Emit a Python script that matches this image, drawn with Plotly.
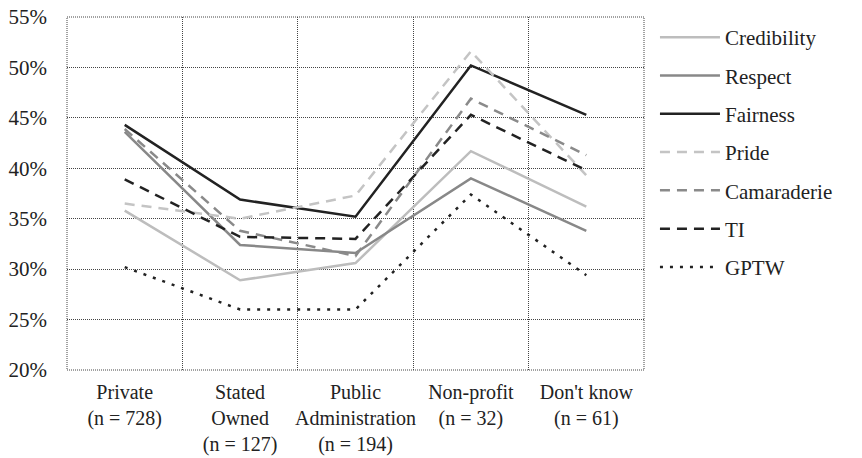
import plotly.graph_objects as go

categories = ["Private<br>(n = 728)", "Stated<br>Owned<br>(n = 127)", "Public<br>Administration<br>(n = 194)",
              "Non-profit<br>(n = 32)", "Don't know<br>(n = 61)"]
x_pos = [0, 1, 2, 3, 4]

credibility = [35.8, 28.9, 30.6, 41.7, 36.2]
respect = [43.6, 32.4, 31.6, 39.0, 33.8]
fairness = [44.3, 36.9, 35.2, 50.2, 45.3]
pride = [36.5, 35.0, 37.3, 51.6, 39.3]
camaraderie = [43.9, 33.8, 31.3, 46.9, 41.3]
ti = [38.9, 33.2, 33.0, 45.3, 39.8]
gptw = [30.2, 26.0, 26.0, 37.4, 29.4]

y_ticks = [20, 25, 30, 35, 40, 45, 50, 55]
y_tick_text = [f"{v}%" for v in y_ticks]

series = [
    ("Credibility", credibility, "#bdbdbd", "solid", 2.5),
    ("Respect", respect, "#888888", "solid", 2.5),
    ("Fairness", fairness, "#222222", "solid", 2.5),
    ("Pride", pride, "#c4c4c4", "10px,7px", 2.5),
    ("Camaraderie", camaraderie, "#8a8a8a", "10px,7px", 2.5),
    ("TI", ti, "#222222", "10px,7px", 2.5),
    ("GPTW", gptw, "#222222", "3px,7px", 2.5),
]

font_family = "Liberation Serif"
txt_font = dict(family=font_family, size=20, color="#222222")

fig = go.Figure()
for i, (name, vals, color, dash, w) in enumerate(series):
    fig.add_trace(go.Scatter(
        x=x_pos, y=vals, name=name, mode="lines",
        line=dict(color=color, dash=dash, width=w),
        legendgroup=f"g{i}",
    ))

grid_color = "#444444"
fig.update_layout(
    width=854, height=450,
    margin=dict(l=59, r=218, t=9, b=88),
    paper_bgcolor="white", plot_bgcolor="white",
    font=txt_font,
    legend=dict(
        x=1.019, y=1.0, xanchor="left", yanchor="top",
        traceorder="grouped", tracegroupgap=8, itemwidth=60,
        maxheight=420,
        font=dict(family=font_family, size=21, color="#222222"),
        bgcolor="rgba(0,0,0,0)",
    ),
    xaxis=dict(
        range=[-0.5, 4.5], automargin=False,
        tickmode="array", tickvals=x_pos, ticktext=categories,
        tickfont=txt_font, ticklabeloverflow="allow",
        showgrid=False, zeroline=False, showline=False,
        ticks="", ticklabelstandoff=8,
        minor=dict(tickmode="array", tickvals=[0.5, 1.5, 2.5, 3.5], showgrid=True,
                   gridcolor=grid_color, gridwidth=1, griddash="1px,1px", ticks=""),
    ),
    yaxis=dict(
        range=[20, 55], automargin=False,
        tickmode="array", tickvals=y_ticks, ticktext=y_tick_text,
        tickfont=dict(family=font_family, size=21, color="#222222"), ticklabeloverflow="allow",
        showgrid=True, gridcolor=grid_color, gridwidth=1, griddash="1px,1px",
        zeroline=False, showline=False, ticks="", ticklabelstandoff=19,
    ),
    shapes=[dict(type="rect", xref="paper", yref="paper", x0=0, x1=1, y0=0, y1=1,
                 line=dict(color=grid_color, width=1, dash="1px,1px"), layer="below")],
)

fig.write_html("out.html")
